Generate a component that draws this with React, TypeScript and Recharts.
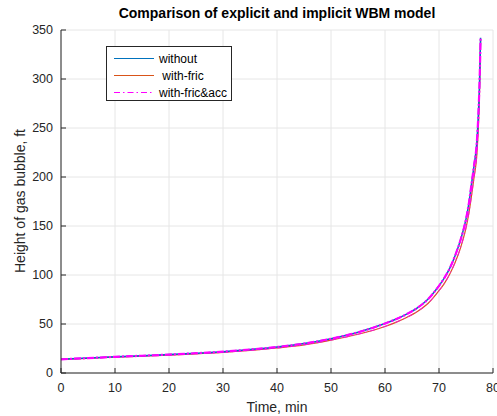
import { LineChart, Line, XAxis, YAxis, CartesianGrid } from 'recharts';

// time in minutes
const timeMin = [0, 5, 10, 15, 20, 25, 30, 35, 40, 45, 50, 55, 60, 62, 64, 66, 68, 70, 71, 72, 73, 74, 75, 75.5, 76, 76.5, 77, 77.3, 77.5, 77.7];
// bubble height (ft), explicit / implicit runs
const withoutVals = [14, 15.2, 16.5, 17.6, 18.8, 20.2, 21.8, 24, 26.5, 30, 35, 41.5, 50.5, 54.8, 60, 66.5, 75.5, 89, 97, 107, 120, 136, 157, 172, 192, 212, 235, 265, 295, 342];
const fricVals = [14, 15, 16.2, 17.2, 18.3, 19.6, 21, 23, 25.5, 28.7, 33.5, 39.5, 47.5, 51.7, 56.7, 62.8, 71.2, 84, 91.5, 101, 113, 128, 148, 162, 180, 200, 222, 252, 285, 340];
const fricAccVals = withoutVals;

const xTicks = [0, 10, 20, 30, 40, 50, 60, 70, 80];
const yTicks = [0, 50, 100, 150, 200, 250, 300, 350];

const legendItems = [
  { name: 'without', color: '#0072BD', dash: '' },
  { name: ' with-fric', color: '#D95319', dash: '' },
  { name: 'with-fric&acc', color: '#FF00FF', dash: '6 3 1.5 3' },
];

const font = '"Liberation Sans", Arial, sans-serif';
const axisColor = '#262626';

export default function App() {
  const data = timeMin.map((t, i) => ({
    t,
    without: withoutVals[i],
    fric: fricVals[i],
    fricAcc: fricAccVals[i],
  }));

  return (
    <div style={{ position: 'absolute', left: 0, top: 0, width: 497, height: 416, fontFamily: font, background: '#fff' }}>
      <LineChart width={497} height={416} data={data} margin={{ top: 30, right: 4, left: 0, bottom: 0 }}>
        <CartesianGrid stroke="#e6e6e6" strokeWidth={1} />
        <XAxis
          dataKey="t"
          type="number"
          domain={[0, 80]}
          ticks={xTicks}
          interval={0}
          height={43}
          stroke={axisColor}
          tickSize={-5}
          tickMargin={15}
          tick={{ fill: axisColor, fontSize: 12.5, fontFamily: font }}
        />
        <XAxis xAxisId="top" orientation="top" dataKey="t" type="number" domain={[0, 80]} ticks={xTicks} interval={0} height={0} stroke={axisColor} tickSize={-5} tick={false} />
        <YAxis
          type="number"
          domain={[0, 350]}
          ticks={yTicks}
          interval={0}
          width={61}
          stroke={axisColor}
          tickSize={-5}
          tickMargin={13}
          tick={{ fill: axisColor, fontSize: 12.5, fontFamily: font }}
        />
        <YAxis yAxisId="right" orientation="right" type="number" domain={[0, 350]} ticks={yTicks} interval={0} width={0} stroke={axisColor} tickSize={-5} tick={false} />
        <Line type="monotone" dataKey="fric" stroke="#D95319" strokeWidth={1.2} dot={false} isAnimationActive={false} />
        <Line type="monotone" dataKey="fric" stroke="#FF00FF" strokeWidth={0.8} strokeDasharray="6 3 1.5 3" dot={false} isAnimationActive={false} />
        <Line type="monotone" dataKey="without" stroke="#0072BD" strokeWidth={1.5} dot={false} isAnimationActive={false} />
        <Line type="monotone" dataKey="fricAcc" stroke="#FF00FF" strokeWidth={2.2} strokeDasharray="7 2 2 2" dot={false} isAnimationActive={false} />
      </LineChart>

      <div style={{ position: 'absolute', left: 0, width: 554, top: 5, textAlign: 'center', fontWeight: 'bold', fontSize: 14, color: '#000' }}>
        Comparison of explicit and implicit WBM model
      </div>
      <div style={{ position: 'absolute', left: 0, width: 554, top: 399, textAlign: 'center', fontSize: 14, color: axisColor }}>
        Time, min
      </div>
      <div
        style={{
          position: 'absolute',
          left: 20,
          top: 201,
          transform: 'translate(-50%, -50%) rotate(-90deg)',
          whiteSpace: 'nowrap',
          fontSize: 14,
          color: axisColor,
        }}
      >
        Height of gas bubble, ft
      </div>

      <div
        style={{
          position: 'absolute',
          left: 106,
          top: 46,
          width: 124,
          height: 53,
          border: '1px solid #262626',
          background: '#fff',
          fontSize: 12,
          color: '#000',
        }}
      >
        {legendItems.map((it, i) => (
          <div key={it.name} style={{ position: 'absolute', left: 0, top: 3 + i * 17, height: 17, display: 'flex', alignItems: 'center', whiteSpace: 'pre' }}>
            <svg width={52} height={17}>
              <line x1={7} y1={8.5} x2={47} y2={8.5} stroke={it.color} strokeWidth={1.2} strokeDasharray={it.dash} />
            </svg>
            <span>{it.name}</span>
          </div>
        ))}
      </div>
    </div>
  );
}
